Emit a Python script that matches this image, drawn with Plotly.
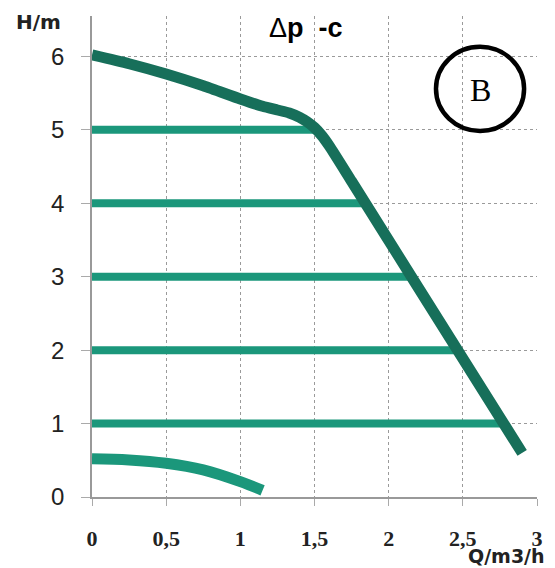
import plotly.graph_objects as go

# ---- data ----
main_q = [0, 0.25, 0.5, 0.75, 1.0, 1.15, 1.25, 1.33, 1.4, 1.45, 1.5, 1.55, 1.6, 1.75, 2.2, 2.9]
main_h = [6.02, 5.9, 5.76, 5.6, 5.42, 5.32, 5.27, 5.23, 5.17, 5.11, 5.03, 4.92, 4.78, 4.3, 2.85, 0.6]

level_h = [1, 2, 3, 4, 5]
level_q_end = [2.77, 2.47, 2.15, 1.86, 1.53]

low_q = [0, 0.25, 0.5, 0.75, 1.0, 1.15]
low_h = [0.52, 0.505, 0.46, 0.37, 0.21, 0.09]

x_ticks = [0, 0.5, 1, 1.5, 2, 2.5, 3]
x_tick_text = ["0", "0,5", "1", "1,5", "2", "2,5", "3"]
y_ticks = [0, 1, 2, 3, 4, 5, 6]

DARK = "#176f5a"
LIGHT = "#1b977b"

fig = go.Figure()

for h, qe in zip(level_h, level_q_end):
    fig.add_trace(go.Scatter(x=[0, qe], y=[h, h], mode="lines",
                             line=dict(color=LIGHT, width=8), hoverinfo="skip"))

fig.add_trace(go.Scatter(x=low_q, y=low_h, mode="lines",
                         line=dict(color=LIGHT, width=11, shape="spline", smoothing=1.0)))

fig.add_trace(go.Scatter(x=main_q, y=main_h, mode="lines",
                         line=dict(color=DARK, width=11, shape="spline", smoothing=0.6)))

fig.update_layout(
    width=555, height=568,
    margin=dict(l=92, r=18, t=16, b=71),
    paper_bgcolor="white", plot_bgcolor="white",
    showlegend=False,
)

fig.update_xaxes(
    range=[0, 3], tickvals=x_ticks, ticktext=["<b>%s</b>" % t for t in x_tick_text],
    showline=True, linecolor="#999999", linewidth=1.5,
    ticks="outside", ticklen=7, tickcolor="#aaaaaa",
    showgrid=True, gridcolor="#9a9a9a", griddash="dot", gridwidth=1,
    zeroline=False,
    tickfont=dict(family="Liberation Serif", size=22, color="#222222"),
    ticklabelstandoff=14,
)
fig.update_yaxes(
    range=[0, 6.55], tickvals=y_ticks,
    showline=True, linecolor="#999999", linewidth=1.5,
    ticks="outside", ticklen=9, tickcolor="#aaaaaa",
    showgrid=True, gridcolor="#9a9a9a", griddash="dot", gridwidth=1,
    zeroline=False,
    tickfont=dict(family="Liberation Sans", size=24, color="#222222"),
    ticklabelstandoff=12,
)

# circle "B"
fig.add_shape(type="circle", xref="paper", yref="paper",
              x0=0.773, x1=0.971, y0=0.761, y1=0.936,
              line=dict(color="black", width=4.5))
fig.add_annotation(text="B", xref="paper", yref="paper", x=0.872, y=0.846,
                   showarrow=False, xanchor="center", yanchor="middle",
                   font=dict(family="Liberation Serif", size=32, color="black"))

# title
fig.add_annotation(text="Δ<b>p  -c</b>", xref="paper", yref="paper", x=0.482, y=0.975,
                   showarrow=False, xanchor="center", yanchor="middle",
                   font=dict(family="Liberation Sans", size=27, color="black"))

# axis labels
fig.add_annotation(text="<b>H/m</b>", xref="paper", yref="paper", x=-0.175, y=0.988,
                   showarrow=False, xanchor="left", yanchor="middle",
                   font=dict(family="DejaVu Sans", size=20, color="#222222"))
fig.add_annotation(text="<b>Q/m3/h</b>", xref="paper", yref="paper", x=1.0225, y=-0.122,
                   showarrow=False, xanchor="right", yanchor="middle",
                   font=dict(family="DejaVu Sans", size=19, color="#222222"))

fig.write_html("out.html")
